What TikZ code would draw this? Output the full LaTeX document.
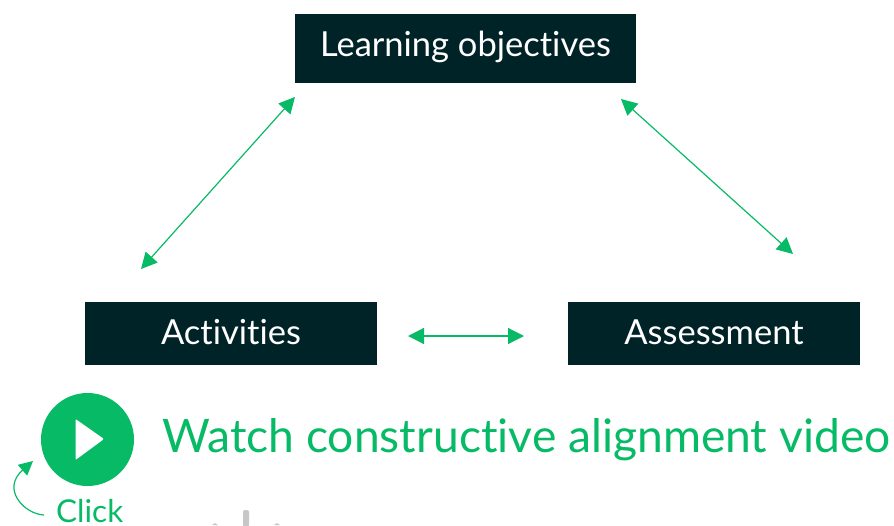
\documentclass[tikz,border=0pt]{standalone}
\usepackage{fontspec}
\setmainfont[Ligatures=NoCommon,Contextuals=NoAlternate]{Lato}
\usetikzlibrary{arrows.meta}
\definecolor{boxdark}{HTML}{002328}
\definecolor{accent}{HTML}{06BA66}
\tikzset{
 darkbox/.style 2 args={fill=boxdark,text=white,text height=#1,text depth=#2,inner xsep=0pt,inner ysep=0pt,align=center,font=\fontsize{34.5}{38}\selectfont},
 link/.style={draw=accent,line width=1.2pt,{Triangle[length=16pt,width=16pt]}-{Triangle[length=16pt,width=16pt]}},
 greentext/.style={text=accent,inner sep=0pt,anchor=base west},
 ghost/.style={fill=black!22,draw=none}
}
\begin{document}
\begin{tikzpicture}[x=1pt,y=-1pt]
\useasboundingbox (0,0) rectangle (894,525);
\node[darkbox={42pt}{27pt},minimum width=341pt] (lo) at (465.5,48.5) {Learning objectives};
\node[darkbox={42pt}{21pt},minimum width=292pt] (ac) at (231,333.5) {Activities};
\node[darkbox={42pt}{21pt},minimum width=292pt] (as) at (714,333.5) {Assessment};
\coordinate (a1) at (295,97); \coordinate (a2) at (141,269);
\coordinate (b1) at (621,99); \coordinate (b2) at (793,254);
\coordinate (c1) at (408,336); \coordinate (c2) at (524,336);
\draw[link] (a1) -- (a2);
\draw[link] (b1) -- (b2);
\draw[link] (c1) -- (c2);
\node[circle,fill=accent,minimum size=93pt,inner sep=0pt] (play) at (87.5,439.5) {};
\fill[white,rounded corners=1pt] (75.5,419) -- (104,439) -- (75.5,460) -- cycle;
\node[greentext,font=\fontsize{46.2}{50}\selectfont] (watch) at (162,452) {Watch constructive alignment video};
\node[greentext,font=\fontsize{31.5}{34}\selectfont] (click) at (56,522) {Click};
\coordinate (cs) at (44,515);
\coordinate (ce) at (33,461);
\draw[accent,line width=1.2pt,-{Triangle[length=14pt,width=14pt]}] (cs) .. controls (24,514) and (1,489) .. (ce);
\fill[ghost,rounded corners=2pt] (243,510) rectangle (249,527);
\fill[ghost] (212,525) -- (215,523) -- (218,525) -- cycle;
\fill[ghost] (274,525) -- (277,523) -- (280,525) -- cycle;
\end{tikzpicture}
\end{document}
